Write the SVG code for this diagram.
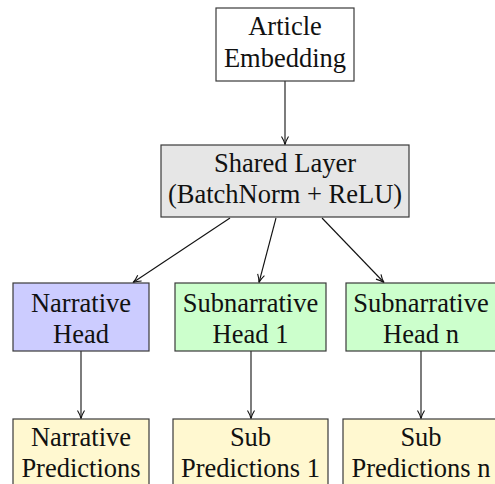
<svg xmlns="http://www.w3.org/2000/svg" width="495" height="484" viewBox="0 0 495 484">
<style>
.box{stroke:#3a3a3a;stroke-width:1.2}
.t{font-family:"Liberation Serif","Times New Roman",serif;font-size:26.5px;fill:#111;text-anchor:middle}
.c{stroke:#111;stroke-width:1.1;fill:none;marker-end:url(#ah)}
</style>
<defs>
<marker id="ah" viewBox="0 0 10 10" refX="9" refY="5" markerWidth="10" markerHeight="10" markerUnits="userSpaceOnUse" orient="auto">
<path d="M1,1.5 Q5,4 9,5 Q5,6 1,8.5" fill="none" stroke="#111" stroke-width="1.1"/>
</marker>
</defs>
<rect width="495" height="484" fill="#fff"/>
<g id="connectors">
<line class="c" x1="285" y1="81" x2="285" y2="144.5"/>
<line class="c" x1="230" y1="218" x2="133" y2="282.5"/>
<line class="c" x1="276" y1="218" x2="259" y2="282.5"/>
<line class="c" x1="322" y1="218" x2="384" y2="282.5"/>
<line class="c" x1="81" y1="351" x2="81" y2="418.5"/>
<line class="c" x1="251" y1="351" x2="251" y2="418.5"/>
<line class="c" x1="421" y1="351" x2="421" y2="418.5"/>
</g>
<g id="article">
<rect class="box" x="216" y="8" width="138" height="73" fill="#fff"/>
<text class="t" x="285" y="34.5">Article</text>
<text class="t" x="285" y="66.5">Embedding</text>
</g>
<g id="shared">
<rect class="box" x="161" y="145" width="248" height="72" fill="#e6e6e6"/>
<text class="t" x="285" y="171.5">Shared Layer</text>
<text class="t" x="285" y="202.5">(BatchNorm + ReLU)</text>
</g>
<g id="narrative-head">
<rect class="box" x="13" y="283" width="136" height="68" fill="#ccccff"/>
<text class="t" x="81" y="311.5">Narrative</text>
<text class="t" x="81" y="342.5">Head</text>
</g>
<g id="sub-head-1">
<rect class="box" x="175" y="283" width="151" height="68" fill="#ccffcc"/>
<text class="t" x="250.5" y="311.5">Subnarrative</text>
<text class="t" x="250.5" y="342.5">Head 1</text>
</g>
<g id="sub-head-n">
<rect class="box" x="346" y="283" width="151" height="68" fill="#ccffcc"/>
<text class="t" x="421" y="311.5">Subnarrative</text>
<text class="t" x="421" y="342.5">Head n</text>
</g>
<g id="narrative-pred">
<rect class="box" x="13" y="419" width="136" height="72" fill="#fff8d0"/>
<text class="t" x="81" y="446">Narrative</text>
<text class="t" x="81" y="477">Predictions</text>
</g>
<g id="sub-pred-1">
<rect class="box" x="173" y="419" width="155" height="72" fill="#fff8d0"/>
<text class="t" x="250.5" y="446">Sub</text>
<text class="t" x="250.5" y="477">Predictions 1</text>
</g>
<g id="sub-pred-n">
<rect class="box" x="343" y="419" width="156" height="72" fill="#fff8d0"/>
<text class="t" x="421" y="446">Sub</text>
<text class="t" x="421" y="477">Predictions n</text>
</g>
</svg>
